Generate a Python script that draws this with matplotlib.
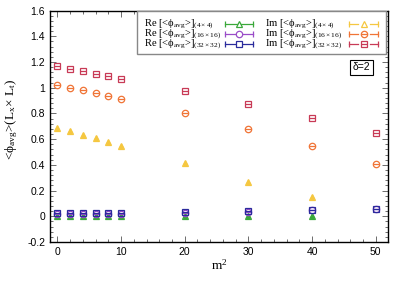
import numpy as np
import matplotlib
matplotlib.use("Agg")
import matplotlib.pyplot as plt
from matplotlib.ticker import MultipleLocator
from matplotlib.lines import Line2D
from matplotlib.patches import Rectangle

plt.rcParams['mathtext.fontset'] = 'custom'
plt.rcParams['mathtext.rm'] = 'Liberation Serif'
plt.rcParams['mathtext.it'] = 'Liberation Serif:italic'
plt.rcParams['mathtext.bf'] = 'Liberation Serif:bold'

# ---- data ----
m2_all = [0, 2, 4, 6, 8, 10, 20, 30, 40, 50]
m2_to40 = [0, 2, 4, 6, 8, 10, 20, 30, 40]

re_4 = [0.0, 0.0, 0.0, 0.0, 0.0, 0.0, 0.0, 0.0, 0.0]
re_16 = [0.018, 0.018, 0.018, 0.018, 0.018, 0.018, 0.027, 0.035, 0.045, 0.055]
re_32 = [0.022, 0.022, 0.022, 0.022, 0.022, 0.022, 0.031, 0.039, 0.049, 0.059]

im_4 = [0.688, 0.660, 0.631, 0.608, 0.579, 0.550, 0.415, 0.270, 0.148]
im_16 = [1.018, 0.997, 0.979, 0.955, 0.935, 0.914, 0.803, 0.680, 0.550, 0.407]
im_32 = [1.166, 1.146, 1.127, 1.109, 1.091, 1.070, 0.971, 0.873, 0.764, 0.647]

labels_re = [r'Re [<ϕ$_{\rm avg}$>]$_{(4\times4)}$',
             r'Re [<ϕ$_{\rm avg}$>]$_{(16\times16)}$',
             r'Re [<ϕ$_{\rm avg}$>]$_{(32\times32)}$']
labels_im = [r'Im [<ϕ$_{\rm avg}$>]$_{(4\times4)}$',
             r'Im [<ϕ$_{\rm avg}$>]$_{(16\times16)}$',
             r'Im [<ϕ$_{\rm avg}$>]$_{(32\times32)}$']

c_green = '#3aa83a'
c_purple = '#9a4cc8'
c_blue = '#2a2a9c'
c_yellow = '#f5c740'
c_orange = '#f07436'
c_red = '#c83a56'

serif = ['Liberation Serif', 'DejaVu Serif']
W, H = 407, 285

fig = plt.figure(figsize=(W / 100, H / 100), dpi=100)
ax = fig.add_axes([0.123, 0.151, 0.830, 0.812])

series = [
    (m2_to40, re_4, c_green, '^', labels_re[0]),
    (m2_all, re_16, c_purple, 'o', labels_re[1]),
    (m2_all, re_32, c_blue, 's', labels_re[2]),
    (m2_to40, im_4, c_yellow, '^', labels_im[0]),
    (m2_all, im_16, c_orange, 'o', labels_im[1]),
    (m2_all, im_32, c_red, 's', labels_im[2]),
]


def fx(px):
    return px / W


def fy(py):
    return 1 - py / H


# legend frame (figure pixel layout)
fig.add_artist(Rectangle((fx(137), fy(54)), fx(386) - fx(137), fy(11.5) - fy(54),
                         transform=fig.transFigure, facecolor='white',
                         edgecolor='#888888', linewidth=1.0, zorder=4))

col_text_x = [144, 265]
col_handle = [(225, 253), (349, 378)]
row_base = [26.5, 36.2, 45.8]

for i, (x, y, c, mk, lab) in enumerate(series):
    ms = 5.0 if mk != 'o' else 4.6
    ax.plot(x, y, linestyle='none', marker=mk, markersize=ms,
            markerfacecolor='none', markeredgecolor=c, markeredgewidth=0.9, zorder=3)
    if mk != '^':
        ax.plot(x, y, linestyle='none', marker='_', markersize=ms,
                markeredgecolor=c, markeredgewidth=0.9, zorder=3)
    else:
        ax.plot(x, y, linestyle='none', marker='^', markersize=ms * 0.55,
                markerfacecolor=c, markeredgecolor=c, zorder=3)

    col, row = divmod(i, 3)
    yb = row_base[row]
    fig.text(fx(col_text_x[col]), fy(yb), lab, family=serif, fontsize=7.6,
             va='baseline', ha='left', zorder=5)
    x0, x1 = col_handle[col]
    yh = fy(yb - 2.2)
    if col == 0:
        fig.add_artist(Line2D([fx(x0), fx(x1)], [yh, yh], transform=fig.transFigure,
                              color=c, linewidth=0.9, zorder=5))
    else:
        xm = (x0 + x1) / 2
        for a, b in ((x0, xm - 6), (xm + 6, x1)):
            fig.add_artist(Line2D([fx(a), fx(b)], [yh, yh], transform=fig.transFigure,
                                  color=c, linewidth=0.9, zorder=5))
    fig.add_artist(Line2D([fx(x0), fx(x1)], [yh, yh], transform=fig.transFigure,
                          linestyle='none', marker='|', markersize=4.5,
                          markeredgecolor=c, markeredgewidth=0.9, zorder=5))
    fig.add_artist(Line2D([fx((x0 + x1) / 2)], [yh], transform=fig.transFigure,
                          linestyle='none', marker=mk, markersize=ms,
                          markerfacecolor='white', markeredgecolor=c,
                          markeredgewidth=0.9, zorder=6))
    if mk != '^' and col == 1:
        fig.add_artist(Line2D([fx((x0 + x1) / 2)], [yh], transform=fig.transFigure,
                              linestyle='none', marker='_', markersize=ms,
                              markeredgecolor=c, markeredgewidth=0.9, zorder=7))

ax.set_xlim(-1.15, 51.9)
ax.set_ylim(-0.2, 1.6)
ax.xaxis.set_major_locator(MultipleLocator(10))
ax.xaxis.set_minor_locator(MultipleLocator(2))
ax.yaxis.set_minor_locator(MultipleLocator(0.04))
ax.set_yticks(np.arange(-0.2, 1.61, 0.2))
ax.set_yticklabels(['-0.2', '0', '0.2', '0.4', '0.6', '0.8', '1', '1.2', '1.4', '1.6'])
ax.tick_params(which='both', direction='in', top=True, right=True,
               labelsize=7.5, width=0.6, colors='#555555', labelcolor='black')
ax.tick_params(which='major', length=4)
ax.tick_params(which='minor', length=2)
for lbl in ax.get_xticklabels() + ax.get_yticklabels():
    lbl.set_family('Liberation Sans')
for s in ax.spines.values():
    s.set_linewidth(1.0)

ax.set_xlabel(r'm$^2$', family=serif, fontsize=9.5, labelpad=1)
ax.set_ylabel(r'<ϕ$_{\rm avg}$>(L$_{\rm x}$× L$_{\rm t}$)', family=serif,
              fontsize=9.5)
ax.yaxis.set_label_coords(-0.088, 0.53)

ax.text(0.923, 0.754, 'δ=2', transform=ax.transAxes, ha='center', va='center',
        family='Liberation Sans', fontsize=7.5,
        bbox=dict(boxstyle='square,pad=0.25', facecolor='white', edgecolor='black', linewidth=0.8))

fig.savefig('out.png', dpi=100)
